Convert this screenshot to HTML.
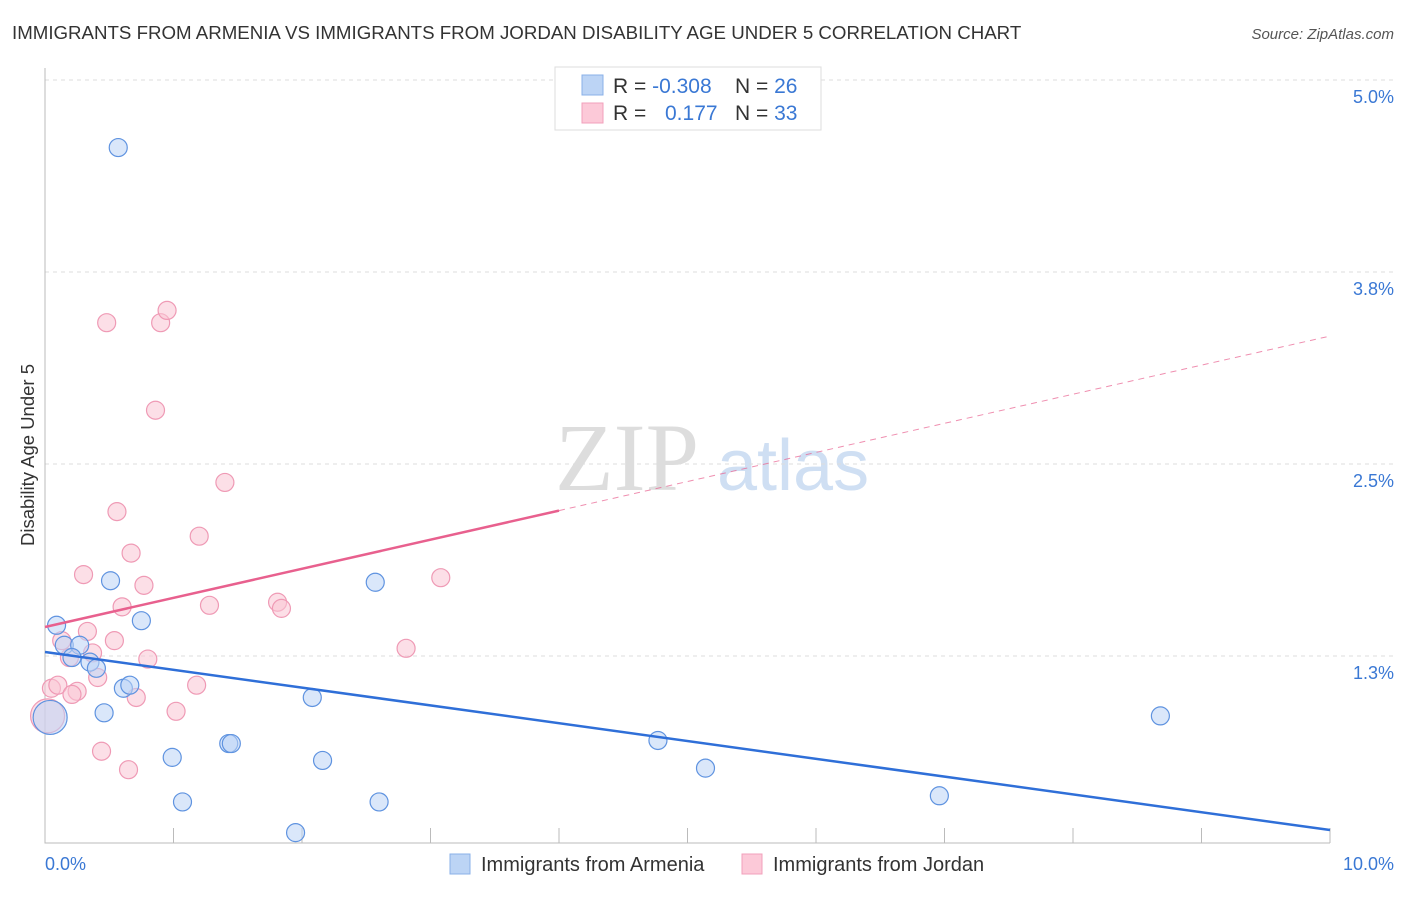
<!DOCTYPE html>
<html><head><meta charset="utf-8"><style>
body{margin:0;background:#fff;font-family:"Liberation Sans",sans-serif}
</style></head><body>
<svg width="1406" height="892" xmlns="http://www.w3.org/2000/svg" font-family="Liberation Sans, sans-serif">
<text x="12" y="39" font-size="18.7" fill="#333">IMMIGRANTS FROM ARMENIA VS IMMIGRANTS FROM JORDAN DISABILITY AGE UNDER 5 CORRELATION CHART</text>
<text x="1394" y="39" font-size="15" fill="#555" font-style="italic" text-anchor="end">Source: ZipAtlas.com</text>
<text x="555" y="490" font-size="96" fill="#ddd" font-family="Liberation Serif, serif">ZIP</text>
<text x="717" y="490" font-size="72" fill="#cfdff3">atlas</text>
<text transform="translate(34,455) rotate(-90)" font-size="18.5" fill="#333" text-anchor="middle">Disability Age Under 5</text>
<g id="grid"></g><g id="axes"></g><g id="pts"></g><g id="lines"></g>
<g>
<rect x="555" y="67" width="266" height="63" fill="#fff" stroke="#ddd"/>
<rect x="582" y="75" width="21" height="20" fill="#bcd4f5" stroke="#8ab0e8"/>
<rect x="582" y="103" width="21" height="20" fill="#fcc9d8" stroke="#f2a0bb"/>
<text x="613" y="93" font-size="21" fill="#333">R = <tspan fill="#3a78d4">-0.308</tspan></text>
<text x="735" y="93" font-size="21" fill="#333">N = <tspan fill="#3a78d4">26</tspan></text>
<text x="613" y="120" font-size="21" fill="#333">R = <tspan x="665" fill="#3a78d4">0.177</tspan></text>
<text x="735" y="120" font-size="21" fill="#333">N = <tspan fill="#3a78d4">33</tspan></text>
</g>
<g>
<rect x="450" y="854" width="20" height="20" fill="#bcd4f5" stroke="#8ab0e8"/>
<text x="481" y="871" font-size="20" fill="#333">Immigrants from Armenia</text>
<rect x="742" y="854" width="20" height="20" fill="#fcc9d8" stroke="#f2a0bb"/>
<text x="773" y="871" font-size="20" fill="#333">Immigrants from Jordan</text>
</g>
<text x="45" y="870" font-size="18" fill="#3a78d4">0.0%</text>
<text x="1394" y="870" font-size="18" fill="#3a78d4" text-anchor="end">10.0%</text>
</svg>
<script>
const yTicks=[5.0,3.75,2.5,1.25];
const yTickLabels=["5.0%","3.8%","2.5%","1.3%"];
const armX=[0.57,0.51,0.75,0.09,0.15,0.27,0.21,0.35,0.40,0.61,0.66,0.46,0.99,1.43,1.45,1.07,1.95,2.08,2.16,2.57,2.60,4.77,5.14,6.96,8.68,0.04];
const armY=[4.56,1.74,1.48,1.45,1.32,1.32,1.24,1.21,1.17,1.04,1.06,0.88,0.59,0.68,0.68,0.30,0.10,0.98,0.57,1.73,0.30,0.70,0.52,0.34,0.86,0.85];
const jorX=[0.48,0.90,0.95,0.86,1.40,0.56,1.20,0.67,0.30,0.77,0.60,1.28,1.81,1.84,3.08,0.33,0.54,0.13,0.19,0.37,0.80,0.41,2.81,0.05,0.10,0.25,0.21,0.71,1.18,1.02,0.44,0.65,0.02];
const jorY=[3.42,3.42,3.50,2.85,2.38,2.19,2.03,1.92,1.78,1.71,1.57,1.58,1.60,1.56,1.76,1.41,1.35,1.35,1.24,1.27,1.23,1.11,1.30,1.04,1.06,1.02,1.00,0.98,1.06,0.89,0.63,0.51,0.86];
const armTrend=[1.276,0.117];
const jorTrend=[1.439,3.333];
const NS="http://www.w3.org/2000/svg";
const sx=v=>45+v*128.5, sy=v=>848-v*153.6;
function mk(t,a,p){const e=document.createElementNS(NS,t);for(const k in a)e.setAttribute(k,a[k]);p.appendChild(e);return e;}
const grid=document.getElementById('grid'),axes=document.getElementById('axes'),pts=document.getElementById('pts'),lines=document.getElementById('lines');
yTicks.forEach((t,i)=>{
 const l=mk('line',{x1:45,x2:1394,y1:sy(t),y2:sy(t),stroke:'#ddd','stroke-dasharray':'4,4'},grid);
 
 
 const tx=mk('text',{x:1394,y:sy(t)+23,'font-size':18,fill:'#3a78d4','text-anchor':'end'},grid);
 tx.textContent=yTickLabels[i];
 
 
});
const ax=mk('path',{d:'M45,68V843H1330',stroke:'#bbb',fill:'none'},axes);


for(let i=1;i<=10;i++){const t=mk('line',{x1:sx(i),x2:sx(i),y1:828,y2:843,stroke:'#bbb'},axes);
 
 }
function dots(X,Y,fill,stroke,name){X.forEach((x,i)=>{
 const big=(i===X.length-1);
 const c=mk('circle',{cx:sx(x),cy:sy(Y[i]),r:big?17:9,fill:fill,'fill-opacity':0.55,stroke:stroke,'stroke-width':1.2},pts);
 
 });}
dots(jorX,jorY,'#f9c4d4','#ef9ab5','jordan-point');
dots(armX,armY,'#bcd4f5','#5f93e0','armenia-point');
const jb=mk('line',{x1:sx(0),y1:sy(jorTrend[0]),x2:sx(4),y2:sy(jorTrend[0]+(jorTrend[1]-jorTrend[0])*0.4),stroke:'#e8608e','stroke-width':2.5},lines);


const jd=mk('line',{x1:sx(4),y1:sy(jorTrend[0]+(jorTrend[1]-jorTrend[0])*0.4),x2:sx(10),y2:sy(jorTrend[1]),stroke:'#e8608e','stroke-width':1,'stroke-dasharray':'6,5','stroke-opacity':0.7},lines);


const ab=mk('line',{x1:sx(0),y1:sy(armTrend[0]),x2:sx(10),y2:sy(armTrend[1]),stroke:'#2f6fd8','stroke-width':2.5},lines);


</script>
</body></html>
